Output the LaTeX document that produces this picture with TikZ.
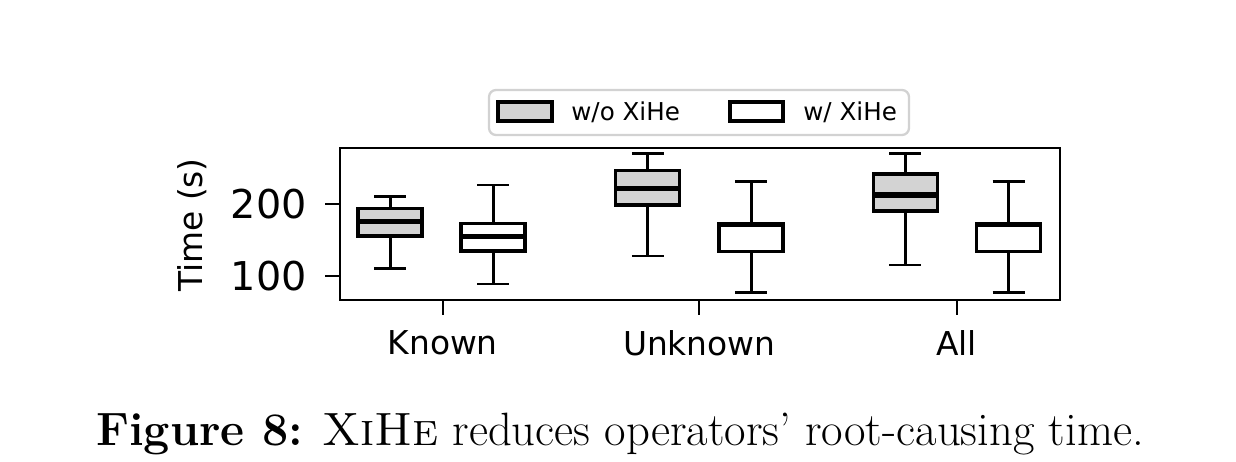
\documentclass[tikz,border=0pt]{standalone}
\usepackage{fontspec}
\newfontfamily\plotfont{DejaVu Sans}
\definecolor{boxgray}{RGB}{211,211,211}
\definecolor{legedge}{RGB}{210,210,210}
\tikzstyle{gbox}=[draw=black, line width=1.9pt, fill=boxgray]
\tikzstyle{wbox}=[draw=black, line width=1.9pt, fill=white]
\tikzstyle{whisk}=[line width=1.7pt]
\tikzstyle{median}=[line width=2.9pt]
\tikzstyle{tick}=[line width=1.1pt]
\tikzstyle{ticklabel}=[font=\plotfont\fontsize{22.6}{26}\selectfont, inner sep=0pt]
\tikzstyle{catlabel}=[font=\plotfont\fontsize{18.7}{22}\selectfont, inner sep=0pt]
\tikzstyle{legtext}=[font=\plotfont\fontsize{14}{17}\selectfont, inner sep=0pt, anchor=west]

\begin{document}
\begin{tikzpicture}[x=0.02cm, y=-0.02cm]
            \useasboundingbox (0,0) rectangle (1236,462);
            %\draw[step=50, gray, very thin] (0,0) grid (1236,462);

            %%%%% Legend
            \draw[legedge, line width=1.3pt, rounded corners=4] (489,90) rectangle (909,135);
            \draw[gbox] (498,102) rectangle (552,121);
            \node[legtext] (lwo) at (571,112) {w/o XiHe};
            \draw[wbox] (730,102) rectangle (783,121);
            \node[legtext] (lw) at (803,112) {w/ XiHe};

            %%%%% Known
            \draw[whisk] (390,236) -- (390,268.3) (374,268.3) -- (406,268.3);
            \draw[whisk] (390,208.3) -- (390,196.7) (374,196.7) -- (406,196.7);
            \draw[gbox] (358,208.3) rectangle (422,236);
            \draw[median] (358,221.7) -- (422,221.7);
            \draw[whisk] (493,251) -- (493,284) (477,284) -- (509,284);
            \draw[whisk] (493,223.3) -- (493,185) (477,185) -- (509,185);
            \draw[wbox] (461,223.3) rectangle (525,251);
            \draw[median] (461,236.7) -- (525,236.7);
            %%%%% Unknown
            \draw[whisk] (647.8,205) -- (647.8,256) (631.8,256) -- (663.8,256);
            \draw[whisk] (647.8,170.7) -- (647.8,153.3) (631.8,153.3) -- (663.8,153.3);
            \draw[gbox] (615.8,170.7) rectangle (679.8,205);
            \draw[median] (615.8,188.3) -- (679.8,188.3);
            \draw[whisk] (751,251.7) -- (751,292.3) (735,292.3) -- (767,292.3);
            \draw[whisk] (751,224) -- (751,181.7) (735,181.7) -- (767,181.7);
            \draw[wbox] (719,224) rectangle (783,251.7);
            \draw[median] (719,224.6) -- (783,224.6);
            %%%%% All
            \draw[whisk] (905.2,211) -- (905.2,265) (889.2,265) -- (921.2,265);
            \draw[whisk] (905.2,174) -- (905.2,153.3) (889.2,153.3) -- (921.2,153.3);
            \draw[gbox] (873.2,174) rectangle (937.2,211);
            \draw[median] (873.2,195) -- (937.2,195);
            \draw[whisk] (1008.5,251.7) -- (1008.5,292.3) (992.5,292.3) -- (1024.5,292.3);
            \draw[whisk] (1008.5,224) -- (1008.5,181.7) (992.5,181.7) -- (1024.5,181.7);
            \draw[wbox] (976.5,224) rectangle (1040.5,251.7);
            \draw[median] (976.5,224.6) -- (1040.5,224.6);

            %%%%% Axes
            \draw[tick] (340,148) rectangle (1060,300);
            \draw[tick] (325,204.3) -- (340,204.3);
            \draw[tick] (325,275.7) -- (340,275.7);
            \node[ticklabel, anchor=east] (y200) at (307,204.3) {200};
            \node[ticklabel, anchor=east] (y100) at (307,275.7) {100};
            \node[catlabel, rotate=90] (ylab) at (192,225) {Time (s)};
            \draw[tick] (442.7,300) -- (442.7,315);
            \draw[tick] (699.3,300) -- (699.3,315);
            \draw[tick] (956.7,300) -- (956.7,315);
            \node[catlabel] (known) at (442.7,343) {Known};
            \node[catlabel] (unknown) at (699.3,343) {Unknown};
            \node[catlabel] (all) at (956.7,343) {All};

            %%%%% Caption
            \node[anchor=base, inner sep=0pt, font=\fontsize{26.6}{31}\selectfont] (cap) at (620,445)
                {\textbf{Figure 8:} \textsc{XiHe} reduces operators' root-causing time.};
        \end{tikzpicture}
\end{document}
